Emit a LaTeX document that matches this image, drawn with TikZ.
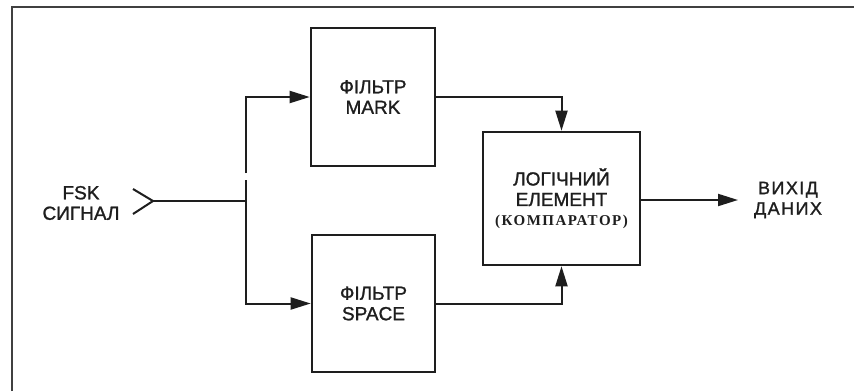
\documentclass[tikz,border=0pt]{standalone}
\usepackage{fontspec}
\setmainfont[FakeBold=1.2]{Liberation Sans}
\newfontfamily\cmpfont[LetterSpace=10]{Liberation Serif}
\newfontfamily\widefont[FakeBold=1.2,LetterSpace=8]{Liberation Sans}
\usetikzlibrary{arrows.meta,calc}
\definecolor{ink}{HTML}{1E1E1E}
\begin{document}
\begin{tikzpicture}[x=1pt,y=-1pt,
  every node/.style={text=ink},
  blk/.style={draw=ink,line width=2.6pt,inner sep=0pt,align=center,font=\fontsize{19}{20.5}\selectfont},
  wire/.style={draw=ink,line width=2pt},
  arr/.style={wire,-{Triangle[length=20pt,width=12pt]}},
  lbl/.style={align=center,font=\fontsize{19}{20.5}\selectfont}]
\useasboundingbox[fill=white] (0,0) rectangle (854,391);
% frame
\draw[draw=ink!85,line width=2pt] (12,391) -- (12,7) -- (854,7);
% blocks
\node[blk,minimum width=124pt,minimum height=138pt] (mark) at (373,97) {ФІЛЬТР\\MARK};
\node[blk,minimum width=123pt,minimum height=137pt] (space) at (373.5,303.5) {ФІЛЬТР\\SPACE};
\node[blk,minimum width=157pt,minimum height=133pt] (logic) at (561.5,198.5)
  {ЛОГІЧНИЙ\\ЕЛЕМЕНТ\\[-1pt]{\cmpfont\bfseries\fontsize{15}{17}\selectfont(КОМПАРАТОР)}};
% input
\node[lbl] (in) at (81,203) {FSK\\СИГНАЛ};
\coordinate (tipA) at (133,189);
\coordinate (tip) at (153,201);
\coordinate (tipB) at (133,214);
\coordinate (split) at (246,201);
\coordinate (gapb) at (246,180);
\coordinate (gapt) at (246,173);
\draw[wire] (tipA) -- (tip) -- (tipB);
\draw[wire] (tip) -- (split);
\draw[wire] (split) -- (gapb);
\draw[arr] (gapt) |- (mark.west);
\draw[arr] (split) |- (space.west);
% to logic
\draw[arr] (mark.east) -| (logic.north);
\draw[arr] (space.east) -| (logic.south);
% output
\node[lbl,font=\widefont\fontsize{18}{20.5}\selectfont] (out) at (788,200) {ВИХІД\\ДАНИХ};
\coordinate (outend) at (738,200);
\draw[arr] (logic.east |- outend) -- (outend);
\end{tikzpicture}
\end{document}
